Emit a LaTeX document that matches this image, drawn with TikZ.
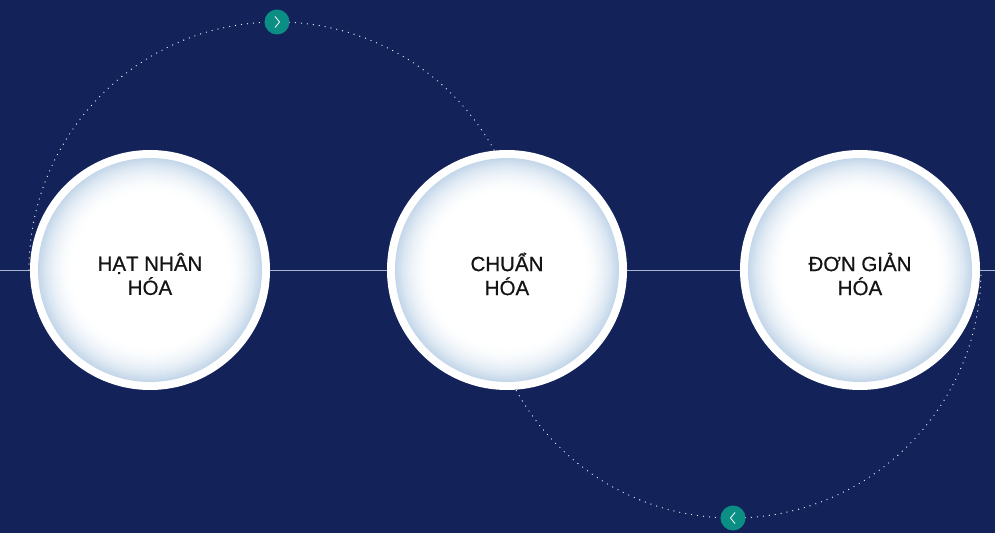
\documentclass[tikz,border=0pt]{standalone}
\usepackage{fontspec}
\setmainfont{Liberation Sans}
\newfontfamily\capfont[FakeBold=0.6]{Liberation Sans}
\definecolor{navy}{HTML}{13235A}
\definecolor{btnteal}{HTML}{0B8F84}
\definecolor{rimblue}{HTML}{C4D7EA}
\definecolor{axisgray}{HTML}{A9B5D0}
\tikzset{
  bubble/.style={circle, fill=white, minimum size=240pt, inner sep=0pt},
  caption/.style={align=center, text=black!92, font=\capfont\fontsize{20.5}{24}\selectfont},
  btn/.style={circle, fill=btnteal, minimum size=25pt, inner sep=0pt},
  orbit/.style={white, opacity=.95, line width=1.3pt, line cap=round, dash pattern=on 0pt off 6pt},
  chevron/.style={white, line width=.8pt}
}
\begin{document}
\begin{tikzpicture}[x=1pt, y=1pt]
  \fill[navy] (0,0) rectangle (995,533);
  \useasboundingbox (0,0) rectangle (995,533);
  % axis behind the circles
  \coordinate (axisL) at (0,263);
  \coordinate (axisR) at (995,263);
  \draw[axisgray, line width=.8pt] (axisL) -- (axisR);
  % dotted orbits
  \coordinate (orbitA) at (29,263);
  \coordinate (orbitB) at (485,263);
  \draw[orbit] (orbitA) arc[start angle=180, end angle=0, radius=248];
  \draw[orbit] (orbitB) arc[start angle=180, end angle=360, radius=248];
  % steps
  \node[bubble] (hatnhan) at (150,263) {};
  \node[bubble] (chuan) at (507,263) {};
  \node[bubble] (dongian) at (860,263) {};
  % soft blue rim inside each ring
  \foreach \s in {hatnhan,chuan,dongian}
    \foreach \k in {0,...,36} {
      \pgfmathsetmacro\pct{100*(1-\k/36)^2}
      \fill[rimblue!\pct!white] (\s.center) circle (112-\k);
    };
  \node[caption] (hatnhanTxt) at ([yshift=-4pt]hatnhan.center) {HẠT NHÂN\\HÓA};
  \node[caption] (chuanTxt) at ([yshift=-4pt]chuan.center) {CHUẨN\\HÓA};
  \node[caption] (dongianTxt) at ([yshift=-4pt]dongian.center) {ĐƠN GIẢN\\HÓA};
  % arrows buttons
  \node[btn] (next) at (277,511) {};
  \node[btn] (prev) at (733,15) {};
  \draw[chevron] ([xshift=-2pt, yshift=5.5pt]next.center) -- ([xshift=2.5pt]next.center) -- ([xshift=-2pt, yshift=-5.5pt]next.center);
  \draw[chevron] ([xshift=2pt, yshift=5.5pt]prev.center) -- ([xshift=-2.5pt]prev.center) -- ([xshift=2pt, yshift=-5.5pt]prev.center);
\end{tikzpicture}
\end{document}
